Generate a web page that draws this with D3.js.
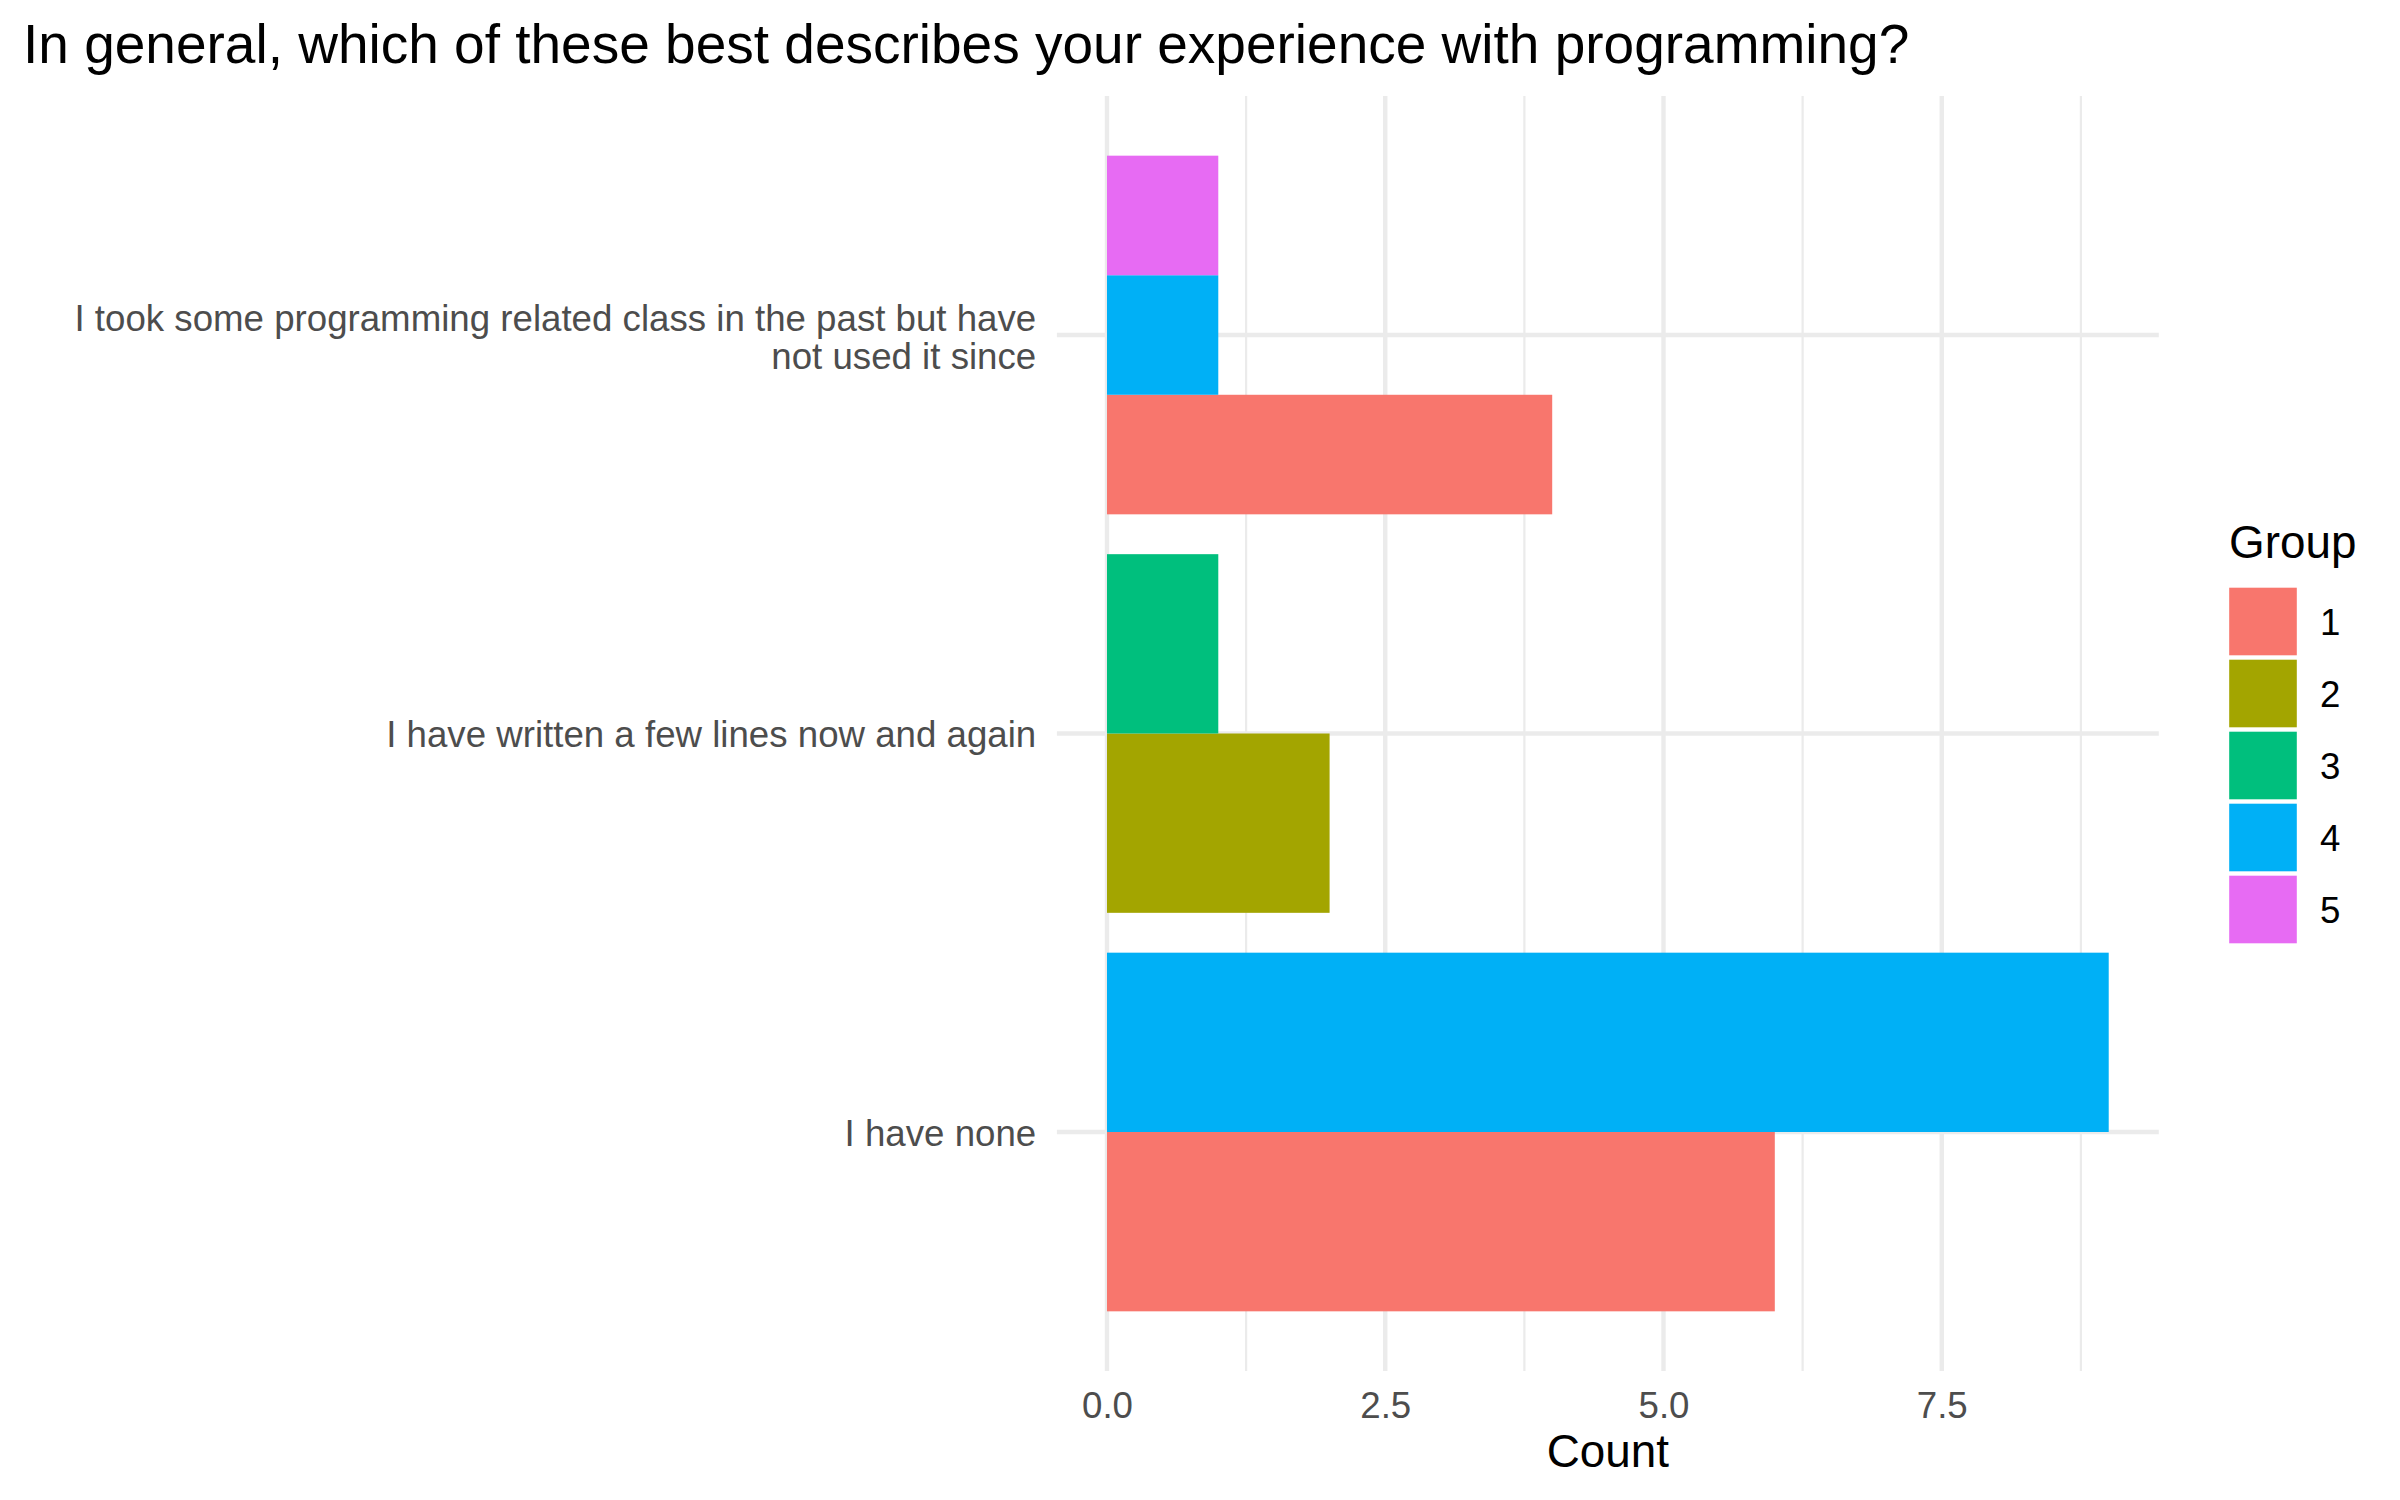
<!DOCTYPE html>
<html>
<head>
<meta charset="utf-8">
<script src="https://cdn.jsdelivr.net/npm/d3@7"></script>
<style>
  body { margin: 0; background: #fff; }
  svg { display: block; font-family: "Liberation Sans", Arial, sans-serif; }
</style>
</head>
<body>
<div id="chart"></div>
<script>
//categories, bottom of the chart last
const categories = [
  "I took some programming related class in the past but have not used it since",
  "I have written a few lines now and again",
  "I have none"
]
//wrapped tick labels (same order as categories)
const categoryLabels = [
  ["I took some programming related class in the past but have", "not used it since"],
  ["I have written a few lines now and again"],
  ["I have none"]
]

const groups = ["1", "2", "3", "4", "5"]
const groupColors = ["#F8766D", "#A3A500", "#00BF7D", "#00B0F6", "#E76BF3"]

//one entry per bar
const barCategories = [categories[2], categories[2], categories[1], categories[1], categories[0], categories[0], categories[0]]
const barGroups = ["1", "4", "2", "3", "1", "4", "5"]
const barCounts = [6, 9, 2, 1, 4, 1, 1]

const xMajor = [0, 2.5, 5, 7.5]
const xMinor = [1.25, 3.75, 6.25, 8.75]

const W = 2400, H = 1500
//panel box (pixels)
const panel = { left: 1056.9, right: 2158.8, top: 95.9, bottom: 1371.1 }

const svg = d3.select("#chart").append("svg")
  .attr("width", W)
  .attr("height", H)

svg.append("rect").attr("width", W).attr("height", H).attr("fill", "#fff")

//scales
const maxCount = d3.max(barCounts)
const xScale = d3.scaleLinear()
  .domain([-0.05 * maxCount, maxCount * 1.05])
  .range([panel.left, panel.right])

const yScale = d3.scalePoint()
  .domain(categories)
  .range([panel.top, panel.bottom])
  .padding(0.6)

const color = d3.scaleOrdinal().domain(groups).range(groupColors)

const grid = svg.append("g")
//minor vertical
grid.selectAll(".minor").data(xMinor).join("line")
  .attr("x1", d => xScale(d)).attr("x2", d => xScale(d))
  .attr("y1", panel.top).attr("y2", panel.bottom)
  .attr("stroke", "#EBEBEB").attr("stroke-width", 2.2)
//major vertical
grid.selectAll(".majorx").data(xMajor).join("line")
  .attr("x1", d => xScale(d)).attr("x2", d => xScale(d))
  .attr("y1", panel.top).attr("y2", panel.bottom)
  .attr("stroke", "#EBEBEB").attr("stroke-width", 4.4)
//major horizontal
grid.selectAll(".majory").data(categories).join("line")
  .attr("x1", panel.left).attr("x2", panel.right)
  .attr("y1", d => yScale(d)).attr("y2", d => yScale(d))
  .attr("stroke", "#EBEBEB").attr("stroke-width", 4.4)

//dodge bars within each category (lowest group at the bottom)
const bars = barCounts.map((c, i) => ({ category: barCategories[i], group: barGroups[i], count: c }))
const step = yScale.step()
const byCat = d3.group(bars, d => d.category)
byCat.forEach(list => {
  list.sort((a, b) => groups.indexOf(a.group) - groups.indexOf(b.group))
  const thick = 0.9 * step / list.length
  list.forEach((d, k) => {
    d.y1 = yScale(d.category) + 0.45 * step - k * thick
    d.y0 = d.y1 - thick
  })
})

svg.append("g").selectAll("rect").data(bars).join("rect")
  .attr("x", xScale(0))
  .attr("width", d => xScale(d.count) - xScale(0))
  .attr("y", d => d.y0)
  .attr("height", d => d.y1 - d.y0)
  .attr("fill", d => color(d.group))

//x axis
const xAxis = svg.append("g")
  .attr("transform", "translate(0," + panel.bottom + ")")
  .call(d3.axisBottom(xScale).tickValues(xMajor).tickFormat(d3.format(".1f")).tickSize(0).tickPadding(20.9))
xAxis.select(".domain").remove()
xAxis.selectAll("text")
  .attr("font-size", 36.67)
  .attr("font-family", "Liberation Sans, Arial, sans-serif")
  .attr("fill", "#4D4D4D")

//y axis, labels may have two lines
const yAxis = svg.append("g")
  .attr("transform", "translate(" + panel.left + ",0)")
  .call(d3.axisLeft(yScale).tickSize(0).tickPadding(20.7))
yAxis.select(".domain").remove()
yAxis.selectAll("text")
  .attr("font-size", 36.67)
  .attr("font-family", "Liberation Sans, Arial, sans-serif")
  .attr("fill", "#4D4D4D")
  .attr("dy", null)
  .each(function (d) {
    const lines = categoryLabels[categories.indexOf(d)]
    const t = d3.select(this).text("")
    const lh = 38.3
    lines.forEach((ln, i) => {
      t.append("tspan")
        .attr("x", -20.7)
        .attr("y", 13 + (i - (lines.length - 1) / 2) * lh + (lines.length > 1 ? 1.2 : 0))
        .text(ln)
    })
  })

//titles
svg.append("text")
  .attr("x", 23).attr("y", 63.3)
  .attr("font-size", 55)
  .attr("fill", "#000")
  .text("In general, which of these best describes your experience with programming?")

svg.append("text")
  .attr("x", (panel.left + panel.right) / 2).attr("y", 1467.3)
  .attr("text-anchor", "middle")
  .attr("font-size", 45.83)
  .attr("fill", "#000")
  .text("Count")

//legend
const legend = svg.append("g").attr("transform", "translate(2227,585.5)")
legend.append("text")
  .attr("x", 2).attr("y", -27.2)
  .attr("font-size", 45.83)
  .attr("fill", "#000")
  .text("Group")

const keys = legend.selectAll(".key").data(groups).join("g")
  .attr("transform", (d, i) => "translate(0," + i * 72 + ")")
keys.append("rect")
  .attr("x", 2.2).attr("y", 2.2)
  .attr("width", 67.6).attr("height", 67.6)
  .attr("fill", d => color(d))
keys.append("text")
  .attr("x", 93).attr("y", 36 + 13)
  .attr("font-size", 36.67)
  .attr("fill", "#000")
  .text(d => d)
</script>
</body>
</html>
